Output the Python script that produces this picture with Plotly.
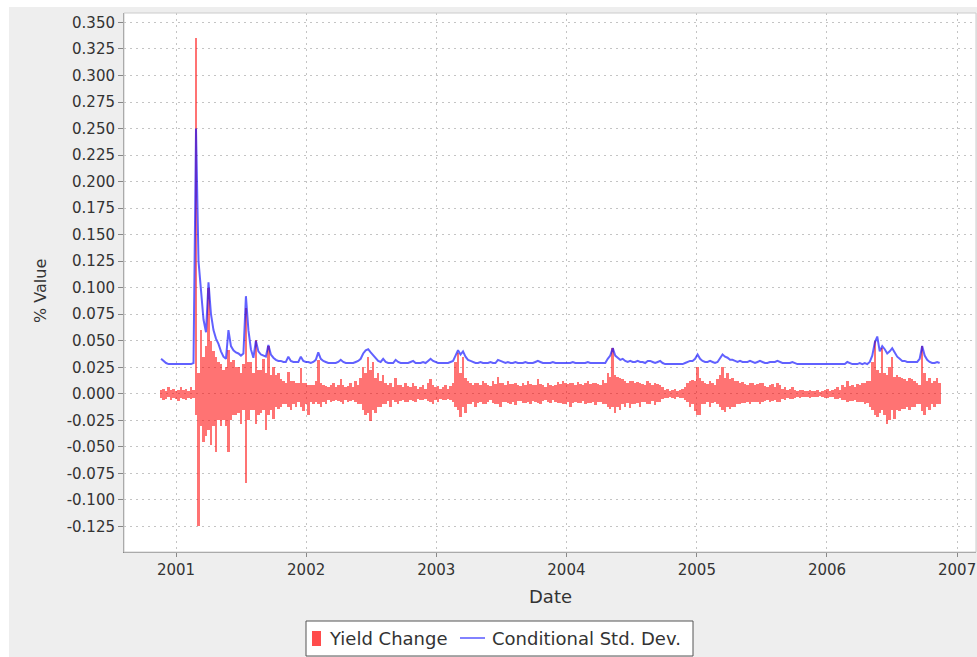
import plotly.graph_objects as go
import pandas as pd

# ---------------- data (weekly readings from the picture) ----------------
start_date = "2000-11-20"
n_points = 313
dates = pd.date_range(start_date, periods=n_points, freq="7D")

# weekly upper and lower extent of the daily yield change bars
yield_change_high = [
    0.004, 0.005, 0.003, 0.006, 0.004, 0.005, 0.003, 0.004, 0.006, 0.004,
    0.005, 0.003, 0.006, 0.004, 0.335, 0.020, 0.060, 0.035, 0.045, 0.100,
    0.050, 0.040, 0.035, 0.030, 0.028, 0.022, 0.025, 0.041, 0.030, 0.032,
    0.025, 0.025, 0.020, 0.028, 0.081, 0.030, 0.030, 0.020, 0.051, 0.022,
    0.022, 0.033, 0.020, 0.045, 0.018, 0.025, 0.018, 0.020, 0.014, 0.012,
    0.010, 0.021, 0.012, 0.012, 0.010, 0.010, 0.024, 0.010, 0.010, 0.008,
    0.008, 0.008, 0.012, 0.032, 0.010, 0.008, 0.007, 0.006, 0.008, 0.010,
    0.006, 0.008, 0.014, 0.008, 0.006, 0.007, 0.010, 0.006, 0.012, 0.008,
    0.015, 0.025, 0.020, 0.035, 0.022, 0.030, 0.015, 0.020, 0.012, 0.018,
    0.010, 0.008, 0.010, 0.006, 0.015, 0.008, 0.008, 0.006, 0.010, 0.007,
    0.006, 0.010, 0.007, 0.005, 0.006, 0.008, 0.005, 0.010, 0.014, 0.008,
    0.006, 0.007, 0.005, 0.006, 0.008, 0.005, 0.007, 0.010, 0.030, 0.038,
    0.020, 0.035, 0.015, 0.012, 0.010, 0.008, 0.010, 0.010, 0.008, 0.012,
    0.010, 0.008, 0.007, 0.012, 0.009, 0.016, 0.010, 0.010, 0.008, 0.012,
    0.009, 0.009, 0.010, 0.008, 0.007, 0.010, 0.008, 0.012, 0.009, 0.008,
    0.008, 0.014, 0.009, 0.008, 0.006, 0.010, 0.008, 0.007, 0.008, 0.011,
    0.009, 0.012, 0.010, 0.009, 0.010, 0.010, 0.008, 0.011, 0.009, 0.008,
    0.010, 0.012, 0.009, 0.010, 0.010, 0.009, 0.008, 0.013, 0.010, 0.020,
    0.016, 0.043, 0.018, 0.016, 0.015, 0.014, 0.012, 0.010, 0.012, 0.012,
    0.010, 0.011, 0.010, 0.009, 0.008, 0.012, 0.010, 0.008, 0.010, 0.009,
    0.008, 0.006, 0.004, 0.005, 0.003, 0.004, 0.005, 0.003, 0.004, 0.005,
    0.006, 0.010, 0.012, 0.013, 0.012, 0.025, 0.015, 0.012, 0.010, 0.009,
    0.012, 0.010, 0.008, 0.014, 0.018, 0.025, 0.015, 0.020, 0.014, 0.015,
    0.012, 0.012, 0.010, 0.011, 0.009, 0.008, 0.010, 0.010, 0.008, 0.009,
    0.010, 0.010, 0.007, 0.006, 0.008, 0.009, 0.006, 0.010, 0.008, 0.005,
    0.006, 0.004, 0.005, 0.006, 0.004, 0.003, 0.004, 0.004, 0.003, 0.003,
    0.004, 0.003, 0.003, 0.004, 0.002, 0.003, 0.004, 0.005, 0.003, 0.004,
    0.005, 0.006, 0.004, 0.008, 0.006, 0.012, 0.007, 0.008, 0.006, 0.009,
    0.008, 0.010, 0.010, 0.012, 0.012, 0.030, 0.050, 0.022, 0.020, 0.043,
    0.020, 0.018, 0.025, 0.035, 0.016, 0.018, 0.016, 0.015, 0.014, 0.012,
    0.015, 0.014, 0.012, 0.010, 0.008, 0.045, 0.020, 0.012, 0.015, 0.010,
    0.012, 0.015, 0.010,
]

yield_change_low = [
    -0.004, -0.006, -0.005, -0.003, -0.006, -0.004, -0.005, -0.007, -0.004, -0.005,
    -0.006, -0.004, -0.005, -0.004, -0.020, -0.125, -0.030, -0.045, -0.040, -0.034,
    -0.048, -0.030, -0.055, -0.025, -0.030, -0.025, -0.030, -0.055, -0.025, -0.020,
    -0.020, -0.018, -0.028, -0.015, -0.084, -0.025, -0.015, -0.015, -0.028, -0.020,
    -0.018, -0.015, -0.034, -0.020, -0.015, -0.024, -0.012, -0.014, -0.012, -0.010,
    -0.010, -0.012, -0.015, -0.010, -0.012, -0.008, -0.012, -0.016, -0.010, -0.020,
    -0.008, -0.010, -0.008, -0.010, -0.012, -0.008, -0.010, -0.006, -0.008, -0.007,
    -0.006, -0.007, -0.008, -0.010, -0.006, -0.008, -0.007, -0.006, -0.008, -0.010,
    -0.010, -0.015, -0.020, -0.018, -0.026, -0.015, -0.018, -0.012, -0.012, -0.010,
    -0.010, -0.007, -0.012, -0.006, -0.008, -0.010, -0.007, -0.006, -0.008, -0.008,
    -0.006, -0.007, -0.008, -0.005, -0.006, -0.006, -0.005, -0.007, -0.008, -0.010,
    -0.006, -0.008, -0.005, -0.006, -0.006, -0.005, -0.006, -0.008, -0.012, -0.015,
    -0.022, -0.012, -0.018, -0.010, -0.010, -0.008, -0.012, -0.009, -0.008, -0.010,
    -0.010, -0.008, -0.006, -0.009, -0.010, -0.010, -0.012, -0.008, -0.008, -0.009,
    -0.010, -0.008, -0.011, -0.007, -0.007, -0.009, -0.009, -0.008, -0.010, -0.007,
    -0.008, -0.009, -0.010, -0.007, -0.006, -0.008, -0.009, -0.006, -0.008, -0.009,
    -0.009, -0.010, -0.010, -0.008, -0.012, -0.009, -0.008, -0.009, -0.009, -0.007,
    -0.010, -0.009, -0.009, -0.008, -0.011, -0.008, -0.008, -0.010, -0.010, -0.012,
    -0.014, -0.012, -0.018, -0.012, -0.015, -0.010, -0.012, -0.009, -0.013, -0.010,
    -0.010, -0.009, -0.012, -0.008, -0.008, -0.010, -0.010, -0.007, -0.011, -0.008,
    -0.008, -0.005, -0.004, -0.004, -0.003, -0.004, -0.005, -0.003, -0.004, -0.004,
    -0.006, -0.008, -0.012, -0.010, -0.016, -0.020, -0.020, -0.010, -0.010, -0.008,
    -0.012, -0.009, -0.008, -0.010, -0.012, -0.015, -0.017, -0.012, -0.014, -0.012,
    -0.012, -0.010, -0.010, -0.009, -0.009, -0.008, -0.010, -0.008, -0.008, -0.008,
    -0.010, -0.008, -0.007, -0.006, -0.008, -0.007, -0.006, -0.008, -0.008, -0.005,
    -0.006, -0.004, -0.005, -0.005, -0.004, -0.003, -0.004, -0.003, -0.003, -0.003,
    -0.004, -0.003, -0.003, -0.003, -0.002, -0.003, -0.004, -0.004, -0.003, -0.003,
    -0.005, -0.005, -0.004, -0.006, -0.006, -0.008, -0.007, -0.007, -0.006, -0.008,
    -0.008, -0.008, -0.010, -0.009, -0.012, -0.015, -0.020, -0.022, -0.018, -0.015,
    -0.020, -0.028, -0.025, -0.015, -0.024, -0.015, -0.016, -0.014, -0.014, -0.012,
    -0.015, -0.012, -0.012, -0.010, -0.010, -0.016, -0.020, -0.012, -0.015, -0.010,
    -0.012, -0.010, -0.010,
]

cond_std_dev = [
    0.033, 0.031, 0.029, 0.028, 0.028, 0.028, 0.028, 0.028, 0.028, 0.028,
    0.028, 0.028, 0.028, 0.029, 0.250, 0.125, 0.100, 0.070, 0.058, 0.105,
    0.075, 0.060, 0.052, 0.047, 0.040, 0.035, 0.033, 0.060, 0.045, 0.041,
    0.039, 0.038, 0.036, 0.038, 0.092, 0.060, 0.042, 0.034, 0.050, 0.040,
    0.037, 0.036, 0.035, 0.046, 0.037, 0.034, 0.032, 0.031, 0.031, 0.030,
    0.030, 0.035, 0.031, 0.030, 0.030, 0.030, 0.035, 0.031, 0.030, 0.030,
    0.029, 0.030, 0.032, 0.039, 0.033, 0.031, 0.030, 0.029, 0.029, 0.029,
    0.029, 0.030, 0.032, 0.030, 0.029, 0.029, 0.029, 0.029, 0.030, 0.031,
    0.033, 0.038, 0.041, 0.042, 0.039, 0.036, 0.033, 0.031, 0.030, 0.033,
    0.030, 0.029, 0.029, 0.029, 0.032, 0.030, 0.029, 0.029, 0.029, 0.029,
    0.030, 0.031, 0.029, 0.029, 0.029, 0.030, 0.029, 0.031, 0.033, 0.031,
    0.030, 0.029, 0.029, 0.029, 0.029, 0.029, 0.030, 0.031, 0.036, 0.041,
    0.037, 0.040, 0.035, 0.032, 0.031, 0.030, 0.029, 0.029, 0.030, 0.029,
    0.029, 0.029, 0.030, 0.029, 0.029, 0.032, 0.031, 0.030, 0.029, 0.030,
    0.029, 0.029, 0.030, 0.029, 0.029, 0.029, 0.030, 0.029, 0.029, 0.029,
    0.030, 0.031, 0.030, 0.029, 0.029, 0.029, 0.029, 0.030, 0.029, 0.029,
    0.029, 0.029, 0.029, 0.029, 0.029, 0.030, 0.029, 0.029, 0.029, 0.029,
    0.029, 0.030, 0.029, 0.029, 0.029, 0.029, 0.029, 0.029, 0.029, 0.033,
    0.036, 0.043, 0.036, 0.034, 0.032, 0.033, 0.031, 0.030, 0.031, 0.030,
    0.030, 0.031, 0.030, 0.030, 0.029, 0.031, 0.031, 0.030, 0.029, 0.030,
    0.031, 0.029, 0.028, 0.028, 0.028, 0.028, 0.028, 0.028, 0.028, 0.028,
    0.029, 0.030, 0.031, 0.031, 0.033, 0.037, 0.033, 0.031, 0.030, 0.030,
    0.031, 0.030, 0.029, 0.030, 0.033, 0.037, 0.035, 0.034, 0.032, 0.032,
    0.031, 0.030, 0.031, 0.030, 0.030, 0.030, 0.031, 0.030, 0.029, 0.030,
    0.031, 0.030, 0.029, 0.029, 0.030, 0.030, 0.030, 0.031, 0.030, 0.029,
    0.029, 0.029, 0.029, 0.030, 0.029, 0.028, 0.028, 0.028, 0.028, 0.028,
    0.028, 0.028, 0.028, 0.028, 0.028, 0.028, 0.028, 0.028, 0.028, 0.028,
    0.028, 0.028, 0.028, 0.028, 0.028, 0.030, 0.029, 0.028, 0.028, 0.028,
    0.029, 0.028, 0.029, 0.028, 0.030, 0.036, 0.048, 0.054, 0.040, 0.045,
    0.042, 0.038, 0.040, 0.043, 0.039, 0.035, 0.033, 0.031, 0.031, 0.030,
    0.030, 0.030, 0.030, 0.030, 0.033, 0.045, 0.036, 0.032, 0.030, 0.029,
    0.029, 0.030, 0.029,
]

y_tick_vals = [-0.125, -0.100, -0.075, -0.050, -0.025, 0.000, 0.025, 0.050,
               0.075, 0.100, 0.125, 0.150, 0.175, 0.200, 0.225, 0.250,
               0.275, 0.300, 0.325, 0.350]
y_tick_text = ["-0.125", "-0.100", "-0.075", "-0.050", "-0.025", "0.000",
               "0.025", "0.050", "0.075", "0.100", "0.125", "0.150", "0.175",
               "0.200", "0.225", "0.250", "0.275", "0.300", "0.325", "0.350"]
x_tick_vals = ["2001-01-01", "2002-01-01", "2003-01-01", "2004-01-01",
               "2005-01-01", "2006-01-01", "2007-01-01"]
x_tick_text = ["2001", "2002", "2003", "2004", "2005", "2006", "2007"]

series_names = ["Yield Change", "Conditional Std. Dev."]
x_title = "Date"
y_title = "% Value"

# ---------------- layout geometry ----------------
W, H = 977, 657
ML, MR, MT, MB = 124, 1, 13, 105
PW, PH = W - ML - MR, H - MT - MB


def sx(x_screen):
    return (x_screen - ML) / PW


def sy(y_screen):
    return (MT + PH - y_screen) / PH


RED = "rgba(255,0,0,0.55)"
BLUE = "rgba(0,0,255,0.62)"
FONT = "DejaVu Sans"
BAR_MS = 7 * 24 * 3600 * 1000

fig = go.Figure()
fig.add_trace(go.Bar(x=dates, y=yield_change_high, width=BAR_MS,
                     marker=dict(color=RED, line=dict(width=0)),
                     name=series_names[0], showlegend=False))
fig.add_trace(go.Bar(x=dates, y=yield_change_low, width=BAR_MS,
                     marker=dict(color=RED, line=dict(width=0)),
                     name=series_names[0], showlegend=False))
fig.add_trace(go.Scatter(x=dates, y=cond_std_dev, mode="lines",
                         line=dict(color=BLUE, width=2),
                         name=series_names[1], showlegend=False))

grid = dict(showgrid=True, gridcolor="#c4c4c4", griddash="2px,4px", gridwidth=1)

fig.update_xaxes(type="date", range=["2000-08-08", "2007-02-23"],
                 tickvals=x_tick_vals, ticktext=x_tick_text,
                 ticks="outside", ticklen=4, tickcolor="#888888",
                 showline=True, linecolor="#888888", linewidth=1,
                 tickfont=dict(family=FONT, size=15, color="#333333"),
                 ticklabeloverflow="allow",
                 zeroline=False, **grid)
fig.update_yaxes(range=[-0.1491, 0.3589],
                 tickvals=y_tick_vals, ticktext=y_tick_text,
                 ticks="outside", ticklen=5, tickcolor="#888888",
                 showline=True, linecolor="#888888", linewidth=1,
                 tickfont=dict(family=FONT, size=15, color="#333333"),
                 zeroline=False, **grid)

shapes = [
    # white strips outside the grey chart panel (left and top)
    dict(type="rect", xref="paper", yref="paper", x0=sx(0), x1=sx(9),
         y0=sy(H), y1=sy(0), fillcolor="white", line_width=0, layer="below"),
    dict(type="rect", xref="paper", yref="paper", x0=sx(0), x1=sx(W),
         y0=sy(7), y1=sy(0), fillcolor="white", line_width=0, layer="below"),
    # light plot border (top/right)
    dict(type="rect", xref="paper", yref="paper", x0=0, x1=1, y0=0, y1=1,
         line=dict(color="#cccccc", width=1), fillcolor="rgba(0,0,0,0)", layer="above"),
    # legend box
    dict(type="rect", xref="paper", yref="paper", x0=sx(306), x1=sx(693),
         y0=sy(656), y1=sy(621), line=dict(color="#555555", width=1),
         fillcolor="white"),
    dict(type="rect", xref="paper", yref="paper", x0=sx(312), x1=sx(321),
         y0=sy(646), y1=sy(631), line_width=0, fillcolor="rgba(255,0,0,0.7)"),
    dict(type="line", xref="paper", yref="paper", x0=sx(460), x1=sx(485),
         y0=sy(638), y1=sy(638), line=dict(color=BLUE, width=1.6)),
]

annotations = [
    dict(text=y_title, xref="paper", yref="paper", x=sx(40), y=sy(291),
         textangle=-90, showarrow=False, xanchor="center", yanchor="middle",
         font=dict(family=FONT, size=16, color="#333333")),
    dict(text=x_title, xref="paper", yref="paper", x=sx(550), y=sy(596),
         showarrow=False, xanchor="center", yanchor="middle",
         font=dict(family=FONT, size=18, color="#333333")),
    dict(text=series_names[0], xref="paper", yref="paper", x=sx(327), y=sy(638),
         showarrow=False, xanchor="left", yanchor="middle",
         font=dict(family=FONT, size=18, color="#333333")),
    dict(text=series_names[1], xref="paper", yref="paper", x=sx(490), y=sy(638),
         showarrow=False, xanchor="left", yanchor="middle",
         font=dict(family=FONT, size=18, color="#333333")),
]

fig.update_layout(width=W, height=H, margin=dict(l=ML, r=MR, t=MT, b=MB),
                  paper_bgcolor="#eeeeee", plot_bgcolor="white",
                  barmode="overlay", bargap=0,
                  shapes=shapes, annotations=annotations, showlegend=False)

fig.write_html("out.html",
               config={"displayModeBar": False},
               post_script="document.body.style.margin='0';"
                           "document.body.style.overflow='hidden';")
